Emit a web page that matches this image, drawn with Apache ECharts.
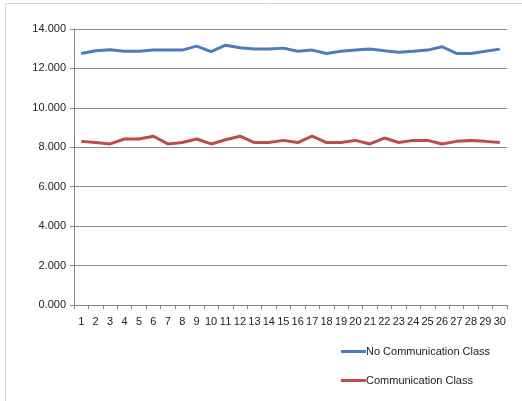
<!DOCTYPE html>
<html>
<head>
<meta charset="utf-8">
<script src="https://cdn.jsdelivr.net/npm/echarts@6/dist/echarts.min.js"></script>
<style>
  html, body { margin: 0; padding: 0; background: #fff; }
  #chart { width: 522px; height: 401px; }
</style>
</head>
<body>
<div id="chart"></div>
<script>
// Trial numbers along the x axis
const categories = Array.from({ length: 30 }, (_, i) => String(i + 1));

// Measured values per trial
const noCommunicationClass = [
  12.76, 12.90, 12.95, 12.87, 12.87, 12.93, 12.93, 12.93, 13.13, 12.85,
  13.18, 13.05, 12.98, 12.98, 13.03, 12.87, 12.93, 12.76, 12.87, 12.93,
  12.98, 12.90, 12.82, 12.87, 12.93, 13.10, 12.76, 12.76, 12.87, 12.98
];
const communicationClass = [
  8.30, 8.24, 8.17, 8.42, 8.42, 8.56, 8.17, 8.24, 8.42, 8.17,
  8.38, 8.56, 8.24, 8.24, 8.35, 8.24, 8.56, 8.24, 8.24, 8.35,
  8.17, 8.47, 8.24, 8.35, 8.35, 8.17, 8.30, 8.35, 8.30, 8.24
];

const seriesNames = ['No Communication Class', 'Communication Class'];

const chart = echarts.init(document.getElementById('chart'), null, { renderer: 'canvas' });

chart.setOption({
  animation: false,
  backgroundColor: '#ffffff',
  textStyle: { fontFamily: 'Liberation Sans Narrow, Liberation Sans, sans-serif' },
  graphic: [{
    type: 'rect',
    shape: { x: 5.5, y: 3.5, width: 530, height: 410 },
    style: { fill: 'none', stroke: '#d9d9d9', lineWidth: 1 },
    silent: true
  }],
  grid: { left: 74, right: 15, top: 29, bottom: 96, containLabel: false },
  xAxis: {
    type: 'category',
    data: categories,
    boundaryGap: true,
    axisLine: { lineStyle: { color: '#868686', width: 1 } },
    axisTick: { show: true, alignWithLabel: false, length: 4, lineStyle: { color: '#868686' } },
    axisLabel: { color: '#222', fontSize: 11, interval: 0, margin: 11 }
  },
  yAxis: {
    type: 'value',
    min: 0,
    max: 14,
    interval: 2,
    axisLine: { show: true, lineStyle: { color: '#868686', width: 1 } },
    axisTick: { show: true, length: 4, lineStyle: { color: '#868686' } },
    splitLine: { lineStyle: { color: '#8c8c8c', width: 1 } },
    axisLabel: {
      color: '#222',
      fontSize: 11,
      margin: 8,
      formatter: v => v.toFixed(3)
    }
  },
  legend: {
    orient: 'vertical',
    left: 336,
    top: 341,
    itemWidth: 25,
    itemHeight: 3,
    itemGap: 18,
    icon: 'rect',
    textStyle: { color: '#222', fontSize: 11, padding: [0, 0, 0, -5] },
    data: seriesNames
  },
  series: [
    {
      name: seriesNames[0],
      type: 'line',
      data: noCommunicationClass,
      symbol: 'none',
      lineStyle: { color: '#4a7ebb', width: 3 },
      itemStyle: { color: '#4a7ebb' }
    },
    {
      name: seriesNames[1],
      type: 'line',
      data: communicationClass,
      symbol: 'none',
      lineStyle: { color: '#be4b48', width: 3 },
      itemStyle: { color: '#be4b48' }
    }
  ]
});
</script>
</body>
</html>
